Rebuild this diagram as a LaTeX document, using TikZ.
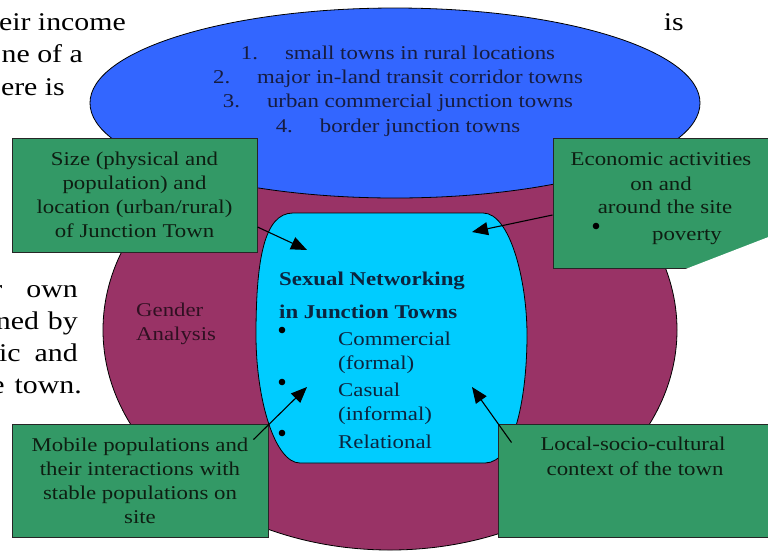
\documentclass[tikz,border=0pt]{standalone}
\usepackage{fontspec}
\setmainfont{Liberation Serif}[FakeStretch=1.17]
\usetikzlibrary{arrows.meta}

\definecolor{blueblob}{RGB}{51,102,255}
\definecolor{plum}{RGB}{153,51,102}
\definecolor{skyblob}{RGB}{0,204,255}
\definecolor{seagreen}{RGB}{51,153,102}
\definecolor{navytext}{RGB}{22,28,64}
\definecolor{deeptext}{RGB}{12,36,62}
\definecolor{plumtext}{RGB}{48,16,34}
\definecolor{greentext}{RGB}{14,30,18}

\begin{document}
\begin{tikzpicture}[x=1pt,y=-1pt,
  box/.style={draw=black!85,line width=1pt,fill=seagreen,text=greentext,
    inner sep=0pt,align=center,font=\fontsize{19.5}{24}\selectfont},
  boxtext/.style={anchor=base,inner sep=0pt,text=greentext,font=\fontsize{19.5}{24}\selectfont},
  listline/.style={anchor=base,inner sep=0pt,text=navytext,font=\fontsize{19.5}{24}\selectfont},
  netline/.style={anchor=base west,inner sep=0pt,text=deeptext,font=\fontsize{19.5}{24}\selectfont},
  bodyline/.style={anchor=base east,inner sep=0pt,font=\fontsize{25.5}{32}\selectfont},
  pointer/.style={-{Triangle[length=16pt,width=13pt]},line width=1.1pt}]
  \useasboundingbox (0,0) rectangle (768,550);

  % paragraph running round the figure (justified, so wide gaps)
  \node [bodyline] at (126,30) {eir income};
  \node [bodyline] at (83,62) {ne of a};
  \node [bodyline] at (65,95) {ere is};
  \node [bodyline] at (684,30) {is};
  \node [bodyline] at (78,297) {r\hspace{24pt}own};
  \node [bodyline] at (78,329) {ned\hspace{9pt}by};
  \node [bodyline] at (78,361) {ic\hspace{14pt}and};
  \node [bodyline] at (82,393) {e\hspace{10pt}town.};

  % gender ring and town types
  \draw [fill=plum,line width=0.8pt] (390,330) ellipse [x radius=287,y radius=220];
  \draw [fill=blueblob,line width=0.8pt] (395,103) ellipse [x radius=305,y radius=95];

  \node [listline] at (398,59) {1.\hspace{27pt}small towns in rural locations};
  \node [listline] at (398,83) {2.\hspace{27pt}major in-land transit corridor towns};
  \node [listline] at (398,107) {3.\hspace{27pt}urban commercial junction towns};
  \node [listline] at (398,132) {4.\hspace{27pt}border junction towns};

  \node [anchor=base west,inner sep=0pt,text=plumtext,font=\fontsize{19.5}{24}\selectfont]
    at (136,316) {Gender};
  \node [anchor=base west,inner sep=0pt,text=plumtext,font=\fontsize{19.5}{24}\selectfont]
    at (136,340) {Analysis};

  % sexual networking
  \draw [fill=skyblob,line width=0.8pt] (293,213) -- (483,213)
    .. controls (510,213) and (527,280) .. (527,335)
    .. controls (527,395) and (515,463) .. (485,463) -- (300,463)
    .. controls (275,463) and (256,400) .. (256,335)
    .. controls (256,260) and (264,213) .. (293,213);

  \node [netline,font=\fontsize{19.5}{24}\selectfont\bfseries] at (279,285) {Sexual Networking};
  \node [netline,font=\fontsize{19.5}{24}\selectfont\bfseries] at (279,318) {in Junction Towns};
  \fill [black] (282,330) circle (3.3);
  \fill [black] (282,382) circle (3.3);
  \fill [black] (282,433) circle (3.3);
  \node [netline] at (338,345) {Commercial};
  \node [netline] at (338,369) {(formal)};
  \node [netline] at (338,396) {Casual};
  \node [netline] at (338,420) {(informal)};
  \node [netline] at (338,448) {Relational};

  \coordinate (tipsize) at (307,250);
  \coordinate (tipecon) at (472,232);
  \coordinate (tipmobile) at (307,387);
  \coordinate (tiplocal) at (472,387);

  % factors
  \node [box,minimum width=245pt,minimum height=114pt] (size) at (134.5,195)
    {Size (physical and\\population) and\\location (urban/rural)\\of Junction Town};

  \node [box,minimum width=222pt,minimum height=130pt] (econ) at (664,203) {};
  \fill [white] (683,270) -- (771,236) -- (771,273) -- cycle;
  \node [boxtext] at (661,165) {Economic activities};
  \node [boxtext] at (661,190) {on and};
  \node [boxtext] at (665,213) {around the site};
  \node [boxtext] at (687,240) {poverty};
  \fill [black] (596,226) circle (3.3);

  \node [box,minimum width=256pt,minimum height=113pt] (mobile) at (140,480.5)
    {Mobile populations and\\their interactions with\\stable populations on\\site};

  \node [box,minimum width=277pt,minimum height=113pt] (local) at (636.5,480.5) {};
  \node [boxtext] at (633,450) {Local-socio-cultural};
  \node [boxtext] at (635,475) {context of the town};

  \draw [pointer] ([yshift=-32pt]size.east) -- (tipsize);
  \draw [pointer] ([yshift=-12pt]econ.west) -- (tipecon);
  \draw [pointer] ([xshift=-15pt,yshift=-16pt]mobile.north east) -- (tipmobile);
  \draw [pointer] ([xshift=14pt,yshift=-19pt]local.north west) -- (tiplocal);
\end{tikzpicture}
\end{document}
